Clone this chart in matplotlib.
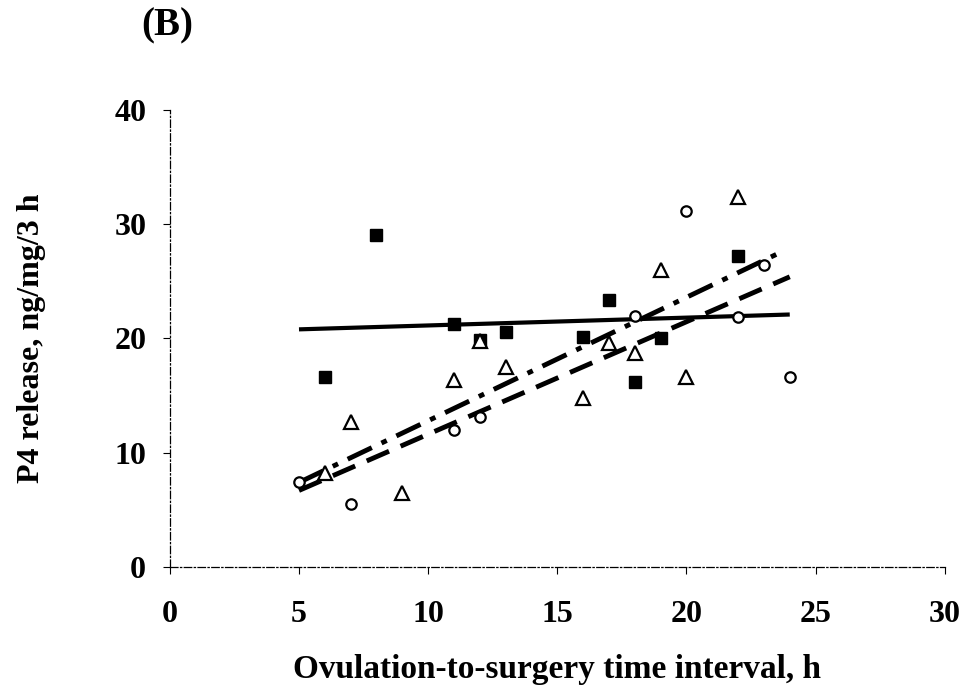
import numpy as np
import matplotlib.pyplot as plt

plt.rcParams['font.family'] = ['Liberation Serif', 'DejaVu Serif']
plt.rcParams['font.weight'] = 'bold'

# filled squares
sq_x = [6, 8, 11, 12, 13, 16, 17, 18, 19, 22]
sq_y = [16.6, 29.1, 21.3, 19.9, 20.6, 20.1, 23.4, 16.2, 20.0, 27.2]
# open circles
ci_x = [5, 7, 11, 12, 18, 20, 22, 23, 24]
ci_y = [7.4, 5.5, 12.0, 13.1, 22.0, 31.2, 21.9, 26.4, 16.6]
# open triangles
tr_x = [6, 7, 9, 11, 12, 13, 16, 17, 18, 19, 20, 22]
tr_y = [8.2, 12.7, 6.5, 16.4, 19.8, 17.5, 14.8, 19.6, 18.7, 26.0, 16.6, 32.4]

# trend lines (end points)
solid_x, solid_y = [5, 24], [20.8, 22.1]
dash_x, dash_y = [5, 24], [6.7, 25.4]
dashdot_x, dashdot_y = [5, 23.7], [7.4, 27.6]

fig = plt.figure(figsize=(9.65, 6.94), dpi=100)
ax = fig.add_axes([0.176, 0.183, 0.803, 0.6585])

ax.plot(solid_x, solid_y, color='black', lw=3, solid_capstyle='butt')
ax.plot(dash_x, dash_y, color='black', lw=3.5, dashes=(5, 2.6))
ax.plot(dashdot_x, dashdot_y, color='black', lw=3.5, dashes=(5.5, 2.2, 1.2, 2.2))

ax.plot(sq_x, sq_y, 's', color='black', ms=8.5, ls='none')
ax.plot(ci_x, ci_y, 'o', mfc='white', mec='black', mew=1.6, ms=7.5, ls='none')
ax.plot(tr_x, tr_y, '^', mfc='white', mec='black', mew=1.6, ms=9.5, ls='none')

ax.set_xlim(0, 30)
ax.set_ylim(0, 40)
ax.set_xticks(np.arange(0, 31, 5))
ax.set_yticks(np.arange(0, 41, 10))
ax.tick_params(labelsize=23, length=5, width=0.8)
ax.tick_params(axis='x', pad=19)
ax.tick_params(axis='y', pad=12)
for s in ['top', 'right']:
    ax.spines[s].set_visible(False)
for s in ['left', 'bottom']:
    ax.spines[s].set_linewidth(0.9)
    ax.spines[s].set_linestyle((0, (6, 2, 1, 2)))

ax.set_xlabel('Ovulation-to-surgery time interval, h', fontsize=24,
              fontweight='bold', labelpad=18)
ax.set_ylabel('P4 release, ng/mg/3 h', fontsize=23, fontweight='bold',
              labelpad=49)
fig.text(0.173, 0.9625, '(B)', fontsize=28, fontweight='bold',
         ha='center', va='center')

fig.savefig('out.png', dpi=100)
